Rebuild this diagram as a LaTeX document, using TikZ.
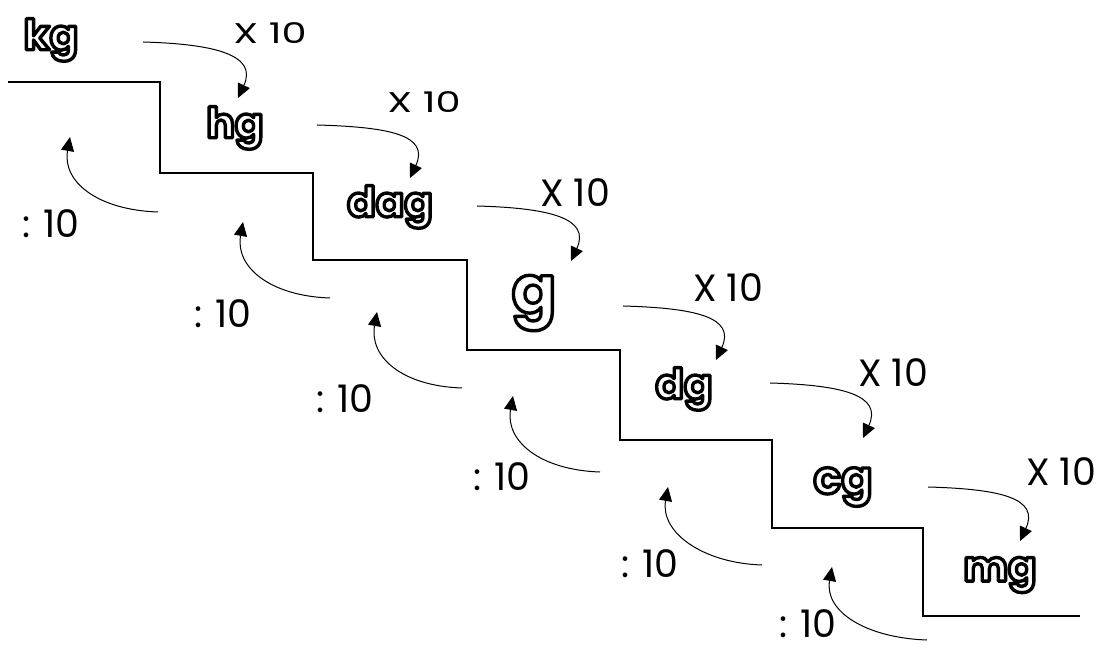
\documentclass[tikz,border=0pt]{standalone}
\usepackage{fontspec}
\usepackage{graphicx}
\setmainfont{Poppins}
\usetikzlibrary{arrows.meta}
\newcommand\outlinetext[1]{\special{pdf:literal direct 2 Tr 3.4 w 1 g 0 G 1 j}#1}
\tikzset{
  stair/.style={line width=2.8pt, line join=miter},
  conv/.style={-{Triangle[length=14pt,width=13pt]}, line width=1pt},
  unitlab/.style={inner sep=0pt},
  oplab/.style={inner sep=0pt, font=\fontsize{38}{40}\selectfont},
}
\begin{document}
\begin{tikzpicture}[x=1pt,y=-1pt]
\useasboundingbox (0,0) rectangle (1101,652);
% staircase
\draw[stair] (8,82) -| (160,173) -| (313,260) -| (467,350) -| (620,440) -| (772,528) -| (923,616) -- (1080,616);
% units
\node[unitlab, font=\bfseries\fontsize{42}{42}\selectfont] (kg) at (51,40) {\outlinetext{kg}};
\node[unitlab, font=\bfseries\fontsize{42}{42}\selectfont] (hg) at (235,128) {\outlinetext{hg}};
\node[unitlab, font=\bfseries\fontsize{42}{42}\selectfont] (dag) at (390,207) {\outlinetext{dag}};
\node[unitlab, font=\bfseries\fontsize{66}{66}\selectfont] (g) at (534,303) {\outlinetext{g}};
\node[unitlab, font=\bfseries\fontsize{42}{42}\selectfont] (dg) at (684,389) {\outlinetext{dg}};
\node[unitlab, font=\bfseries\fontsize{46}{46}\selectfont] (cg) at (843,487) {\outlinetext{cg}};
\node[unitlab, font=\bfseries\fontsize{42}{42}\selectfont] (mg) at (1000,575) {\outlinetext{mg}};
% multiply labels
\node[oplab] (m1) at (270,33) {\scalebox{1.05}[0.75]{X 10}};
\node[oplab] (m2) at (424,102) {\scalebox{1.05}[0.75]{X 10}};
\node[oplab] (m3) at (575,193) {X 10};
\node[oplab] (m4) at (728,288) {X 10};
\node[oplab] (m5) at (893,373) {X 10};
\node[oplab] (m6) at (1061,472) {X 10};
% divide labels
\node[oplab] (d1) at (51,224) {: 10};
\node[oplab] (d2) at (223,314) {: 10};
\node[oplab] (d3) at (345,399) {: 10};
\node[oplab] (d4) at (502,477) {: 10};
\node[oplab] (d5) at (650,564) {: 10};
\node[oplab] (d6) at (808,624) {: 10};
% arrow end points
\coordinate (xs1) at (143,42);  \coordinate (xt1) at (238,98);
\coordinate (xs2) at (317,125); \coordinate (xt2) at (410,178);
\coordinate (xs3) at (477,206); \coordinate (xt3) at (571,261);
\coordinate (xs4) at (623,306); \coordinate (xt4) at (716,360);
\coordinate (xs5) at (770,383); \coordinate (xt5) at (863,438);
\coordinate (xs6) at (928,487); \coordinate (xt6) at (1020,541);
\coordinate (ds1) at (158,212); \coordinate (dt1) at (70,137);
\coordinate (ds2) at (330,298); \coordinate (dt2) at (243,222);
\coordinate (ds3) at (462,388); \coordinate (dt3) at (377,312);
\coordinate (ds4) at (600,472); \coordinate (dt4) at (513,396);
\coordinate (ds5) at (762,565); \coordinate (dt5) at (668,487);
\coordinate (ds6) at (927,640); \coordinate (dt6) at (832,567);
\foreach \i in {1,...,6}{
  \draw[conv] (xs\i) .. controls +(72,2) and +(20,-43) .. (xt\i);
  \draw[conv] (ds\i) .. controls +(-60,-2) and +(-8,45) .. (dt\i);
}
\end{tikzpicture}
\end{document}
